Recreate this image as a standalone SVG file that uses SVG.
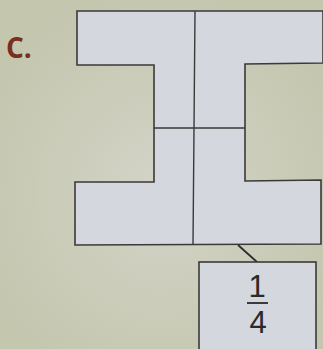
<svg xmlns="http://www.w3.org/2000/svg" width="323" height="349" viewBox="0 0 323 349">
<defs>
<radialGradient id="bg" cx="0.5" cy="0.55" r="0.6">
<stop offset="0" stop-color="#d3d4c8"/>
<stop offset="1" stop-color="#c4c6ae"/>
</radialGradient>
<style>
.shape{fill:#d4d7dd;stroke:#3a3a3a;stroke-width:1.6;stroke-linejoin:miter}
.div{fill:none;stroke:#3a3a3a;stroke-width:1.4}
.num{font-family:"Liberation Sans",Arial,sans-serif;font-size:31px;fill:#2a2a2a;text-anchor:middle}
</style>
</defs>
<rect width="323" height="349" fill="url(#bg)"/>
<text x="6" y="58" font-family="Open Sans, Liberation Sans, sans-serif" font-size="28" font-weight="bold" fill="#7a2e1c">C.</text>
<g id="ibeam">
<path class="shape" d="M77,11 L323,11 L323,63 L245,64 L245,181 L321,180 L321,244 L75,245 L75,182 L154,182 L154,65 L77,65 Z"/>
<path class="div" d="M195,11 L193,245 M154,128 L245,128"/>
</g>
<g id="connectors">
<line x1="238" y1="245" x2="257" y2="262" stroke="#2e2e2e" stroke-width="1.8"/>
</g>
<g id="label">
<rect class="shape" x="199" y="262" width="117" height="92"/>
<text class="num" x="257" y="297">1</text>
<line x1="247" y1="303" x2="268" y2="303" stroke="#2a2a2a" stroke-width="1.8"/>
<text class="num" x="258" y="333">4</text>
</g>
</svg>
